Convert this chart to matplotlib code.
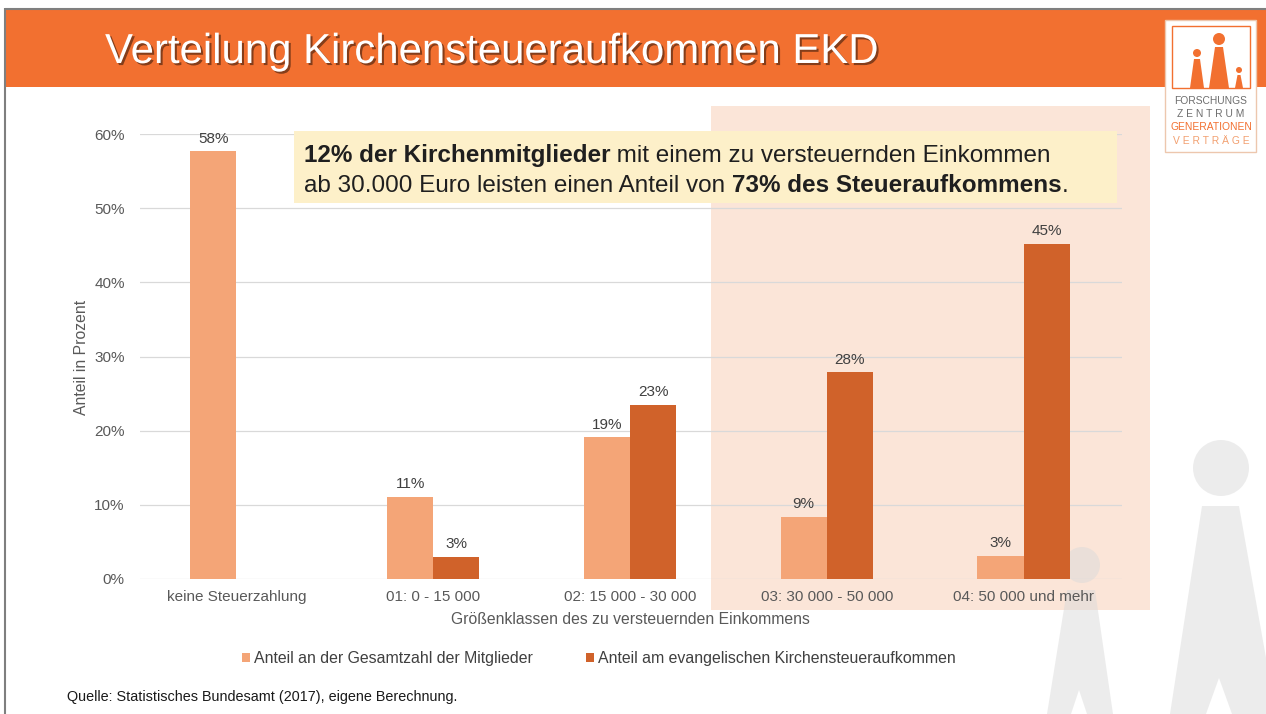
import matplotlib
matplotlib.use("Agg")
import matplotlib.pyplot as plt
from matplotlib.patches import Rectangle, Circle, Polygon
from matplotlib.transforms import Affine2D
import matplotlib.patheffects as pe
import numpy as np

# ---------------- data ----------------
categories = ["keine Steuerzahlung", "01: 0 - 15 000", "02: 15 000 - 30 000",
              "03: 30 000 - 50 000", "04: 50 000 und mehr"]
members_share = [57.7, 11.1, 19.1, 8.4, 3.1]
tax_share = [0.0, 3.0, 23.5, 27.9, 45.2]
members_labels = ["58%", "11%", "19%", "9%", "3%"]
tax_labels = ["", "3%", "23%", "28%", "45%"]
y_ticks = [0, 10, 20, 30, 40, 50, 60]
y_tick_labels = ["0%", "10%", "20%", "30%", "40%", "50%", "60%"]
series_names = ["Anteil an der Gesamtzahl der Mitglieder",
                "Anteil am evangelischen Kirchensteueraufkommen"]
title = "Verteilung Kirchensteueraufkommen EKD"
x_title = "Größenklassen des zu versteuernden Einkommens"
y_title = "Anteil in Prozent"
note_line1 = [("12% der Kirchenmitglieder", "bold"), (" mit einem zu versteuernden Einkommen", "normal")]
note_line2 = [("ab 30.000 Euro leisten einen Anteil von ", "normal"), ("73% des Steueraufkommens", "bold"), (".", "normal")]
source = "Quelle: Statistisches Bundesamt (2017), eigene Berechnung."
logo_lines = ["FORSCHUNGS", "Z E N T R U M", "GENERATIONEN", "V E R T R Ä G E"]

# ---------------- style ----------------
plt.rcParams["font.family"] = ["Liberation Sans", "DejaVu Sans"]
W, H = 1266, 714
DPI = 100
ORANGE = "#F27030"
LIGHT = "#F4A577"
DARK = "#D0622A"
SHADE = "#FBE5D8"
NOTE_BG = "#FDF0C9"
GRID = "#D9D9D9"
TXT = "#595959"

fig = plt.figure(figsize=(W / DPI, H / DPI), dpi=DPI)
fig.patch.set_facecolor("white")
# pixel transform, y measured from top
T = Affine2D().scale(1 / DPI, -1 / DPI).translate(0, H / DPI) + fig.dpi_scale_trans


def rect(x0, y0, x1, y1, **kw):
    r = Rectangle((x0, y0), x1 - x0, y1 - y0, transform=T, **kw)
    fig.add_artist(r)
    return r


# header band and frame
rect(4, 9, W + 2, 87, facecolor=ORANGE, edgecolor="none", zorder=1)
fig.add_artist(plt.Line2D([4.5, W + 2], [8.5, 8.5], transform=T, color="#7F7F7F", lw=1.5,
                          solid_capstyle="butt", zorder=2))
fig.add_artist(plt.Line2D([4.5, 4.5], [8, H + 2], transform=T, color="#7F7F7F", lw=1.5,
                          solid_capstyle="butt", zorder=2))

# shaded highlight area
rect(711, 106, 1150, 610, facecolor=SHADE, edgecolor="none", zorder=-3)

# watermark figures
wm = dict(facecolor="#DADADA", edgecolor="none", alpha=0.5, transform=T, zorder=-2)
fig.add_artist(Circle((1221, 468), 28, **wm))
fig.add_artist(Polygon([(1202, 506), (1239, 506), (1276, 714), (1232, 714), (1219, 678),
                        (1206, 714), (1170, 714)], closed=True, **wm))
fig.add_artist(Circle((1082, 565), 18, **wm))
fig.add_artist(Polygon([(1067, 590), (1095, 590), (1113, 714), (1087, 714), (1079, 690),
                        (1071, 714), (1047, 714)], closed=True, **wm))

# ---------------- chart ----------------
ax = fig.add_axes([140 / W, (H - 579) / H, (1122 - 140) / W, (579 - 134) / H])
ax.patch.set_alpha(0)
x = np.arange(len(categories))
w = 0.235
ax.bar(x - w / 2, members_share, w, color=LIGHT, edgecolor="none", label=series_names[0], zorder=2)
ax.bar(x + w / 2, tax_share, w, color=DARK, edgecolor="none", label=series_names[1], zorder=2)
for xi, v, lab in zip(x - w / 2, members_share, members_labels):
    if lab:
        ax.annotate(lab, (xi, v), xytext=(0, 4), textcoords="offset points", ha="center",
                    va="bottom", fontsize=11, color="#404040", annotation_clip=False)
for xi, v, lab in zip(x + w / 2, tax_share, tax_labels):
    if lab:
        ax.annotate(lab, (xi, v), xytext=(0, 4), textcoords="offset points", ha="center",
                    va="bottom", fontsize=11, color="#404040", annotation_clip=False)

ax.set_xlim(-0.49, 4.5)
ax.set_ylim(0, 60)
ax.set_yticks(y_ticks, y_tick_labels)
ax.set_xticks(x, categories)
ax.tick_params(axis="both", length=0, labelsize=11, labelcolor=TXT)
ax.tick_params(axis="y", pad=11)
ax.tick_params(axis="x", pad=8)
ax.yaxis.grid(True, color=GRID, lw=0.9)
ax.set_axisbelow(True)
for s in ax.spines.values():
    s.set_visible(False)

fig.text(630, 620, x_title, transform=T, ha="center", va="center", fontsize=11.3, color=TXT)
fig.text(82, 357, y_title, transform=T, ha="center", va="center", rotation=90, fontsize=11.3, color=TXT)

# legend
leg = ax.legend(loc="center", bbox_to_anchor=(599, 659), bbox_transform=T, ncol=2, frameon=False,
                fontsize=11.4, handlelength=0.5, handleheight=0.5, handletextpad=0.25,
                columnspacing=3.4, labelcolor="#404040")

# source
fig.text(67, 697, source, transform=T, ha="left", va="center", fontsize=10.4, color="#1A1A1A")

# note box
rect(294, 131, 1117, 203, facecolor=NOTE_BG, edgecolor="none", zorder=3)

# ---------------- logo ----------------
rect(1165, 20, 1256, 152, facecolor="white", edgecolor="#EDC7AE", lw=1, zorder=3)
rect(1172, 26, 1250, 88, facecolor="none", edgecolor=ORANGE, lw=1, zorder=4)
lg = dict(facecolor=ORANGE, edgecolor="none", transform=T, zorder=4)
fig.add_artist(Circle((1197, 53), 4, **lg))
fig.add_artist(Polygon([(1194, 59), (1200, 59), (1204, 88), (1190, 88)], **lg))
fig.add_artist(Circle((1219, 39), 6, **lg))
fig.add_artist(Polygon([(1215, 47), (1223, 47), (1229, 88), (1209, 88)], **lg))
fig.add_artist(Circle((1239, 70), 3, **lg))
fig.add_artist(Polygon([(1237.5, 75), (1240.5, 75), (1243, 88), (1235, 88)], **lg))
logo_cols = ["#6E6E6E", "#6E6E6E", ORANGE, "#F2A070"]
logo_y = [101, 114, 127, 141]
for s, c, yy in zip(logo_lines, logo_cols, logo_y):
    fig.text(1211, yy, s, transform=T, ha="center", va="center", fontsize=7.4, color=c, zorder=5)

# ---------------- title and note text ----------------
t = fig.text(105, 63, title, transform=T, ha="left", va="baseline", fontsize=30, color="white",
             zorder=5, path_effects=[pe.withSimplePatchShadow(offset=(1.5, -1.5), shadow_rgbFace="black", alpha=0.45)])

fig.canvas.draw()
r = fig.canvas.get_renderer()
bb = t.get_window_extent(r)
t.set_fontsize(30 * 772 / bb.width)


def draw_line(parts, x0, baseline, size):
    xx = x0
    for s, wt in parts:
        tt = fig.text(xx, baseline, s, transform=T, ha="left", va="baseline", fontsize=size,
                      fontweight=wt, color="#1F1F1F", zorder=6)
        fig.canvas.draw()
        e = tt.get_window_extent(fig.canvas.get_renderer())
        xx += e.width


draw_line(note_line1, 304, 162, 17.5)
draw_line(note_line2, 304, 192, 17.5)

fig.savefig("out.png", dpi=DPI, facecolor="white")
